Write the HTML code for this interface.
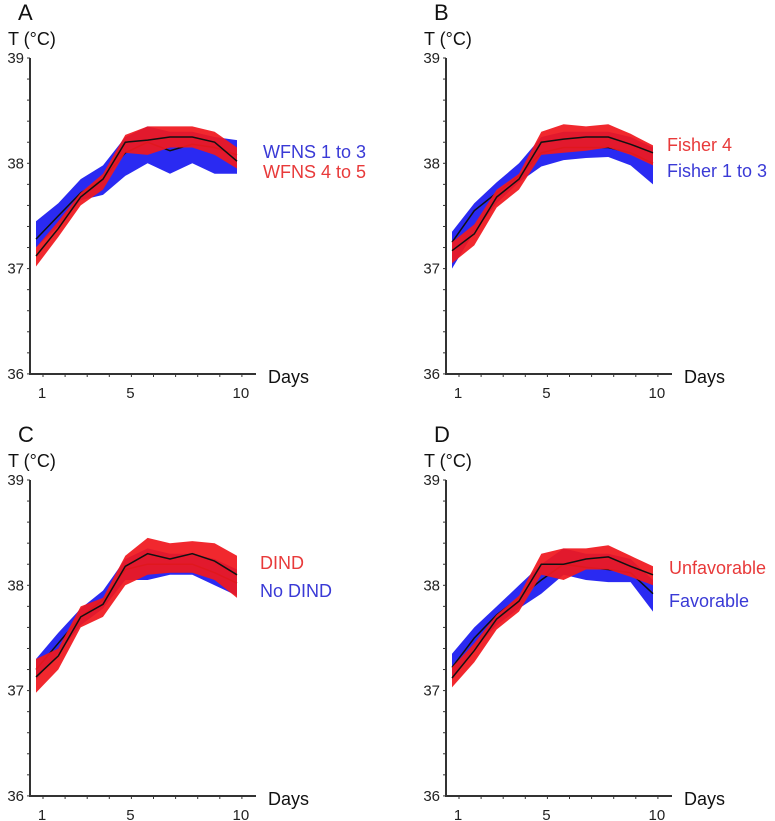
<!DOCTYPE html>
<html><head><meta charset="utf-8"><style>
body{margin:0;background:#fff;}
svg{display:block;font-family:"Liberation Sans","DejaVu Sans",sans-serif;}
</style></head><body>
<svg id="fig" width="775" height="821"></svg>
<script>
const days=[1,2,3,4,5,6,7,8,9,10];
const yTicks=[36,37,38,39];
const xTickLabels=[1,5,10];
// Panel A
const aBlueHi=[37.45,37.62,37.85,37.98,38.25,38.35,38.3,38.3,38.25,38.22];
const aBlueLo=[37.2,37.4,37.65,37.7,37.88,38.0,37.9,38.0,37.9,37.9];
const aBlueMean=[37.28,37.5,37.72,37.85,38.1,38.2,38.12,38.18,38.15,38.08];
const aRedHi=[37.2,37.45,37.72,37.9,38.27,38.35,38.35,38.35,38.3,38.15];
const aRedLo=[37.02,37.3,37.6,37.75,38.1,38.08,38.15,38.15,38.08,37.95];
const aRedMean=[37.12,37.38,37.68,37.85,38.2,38.22,38.25,38.25,38.2,38.02];
// Panel B
const bBlueHi=[37.35,37.62,37.82,38.0,38.25,38.3,38.3,38.3,38.25,38.15];
const bBlueLo=[37.0,37.35,37.62,37.82,37.97,38.03,38.05,38.06,37.98,37.8];
const bBlueMean=[37.25,37.55,37.72,37.88,38.1,38.15,38.15,38.15,38.1,38.0];
const bRedHi=[37.25,37.42,37.75,37.9,38.3,38.37,38.35,38.37,38.28,38.17];
const bRedLo=[37.05,37.22,37.58,37.75,38.08,38.1,38.12,38.15,38.08,37.98];
const bRedMean=[37.17,37.33,37.68,37.85,38.2,38.23,38.25,38.25,38.18,38.1];
// Panel C
const cBlueHi=[37.3,37.55,37.78,37.95,38.25,38.35,38.3,38.3,38.25,38.15];
const cBlueLo=[37.1,37.35,37.62,37.78,38.05,38.05,38.1,38.1,38.0,37.9];
const cBlueMean=[37.2,37.45,37.7,37.86,38.15,38.2,38.2,38.2,38.12,38.02];
const cRedHi=[37.3,37.4,37.8,37.88,38.28,38.45,38.4,38.42,38.4,38.28];
const cRedLo=[36.98,37.2,37.6,37.7,38.0,38.1,38.12,38.12,38.05,37.88];
const cRedMean=[37.13,37.33,37.7,37.82,38.18,38.3,38.25,38.3,38.23,38.1];
// Panel D
const dBlueHi=[37.35,37.6,37.8,38.0,38.2,38.35,38.3,38.3,38.25,38.05];
const dBlueLo=[37.1,37.4,37.62,37.78,37.92,38.1,38.05,38.03,38.03,37.75];
const dBlueMean=[37.22,37.5,37.72,37.88,38.05,38.2,38.17,38.15,38.12,37.92];
const dRedHi=[37.22,37.45,37.72,37.9,38.3,38.35,38.35,38.38,38.28,38.18];
const dRedLo=[37.03,37.27,37.58,37.75,38.1,38.05,38.15,38.15,38.08,38.0];
const dRedMean=[37.12,37.38,37.68,37.85,38.2,38.2,38.25,38.27,38.18,38.1];

const NS='http://www.w3.org/2000/svg';
const svg=document.getElementById('fig');
function mk(tag,attrs,parent){const e=document.createElementNS(NS,tag);for(const k in attrs)e.setAttribute(k,attrs[k]);(parent||svg).appendChild(e);return e;}

function panel(cfg){
  const g=mk('g',{});
  
  
  const ax=cfg.ax, top=cfg.top, bot=top+316;
  const yS=v=>top+(39-v)*105.3;
  const xS=d=>ax+6+(d-1)*22.33;
  const xT=d=>ax+13+(d-1)*22.1;
  let t=mk('text',{x:ax-12,y:top-38,'font-size':22,fill:'#111'},g);t.textContent=cfg.letter;
  
  t=mk('text',{x:ax-22,y:top-13,'font-size':18,fill:'#111'},g);t.textContent='T (°C)';
  
  t=mk('text',{x:ax+238,y:bot+9,'font-size':18,fill:'#111'},g);t.textContent='Days';
  
  function band(hi,lo,col,name){
    let d='';days.forEach((x,i)=>{d+=(i?'L':'M')+xS(x).toFixed(1)+','+yS(hi[i]).toFixed(1);});
    for(let i=days.length-1;i>=0;i--)d+='L'+xS(days[i]).toFixed(1)+','+yS(lo[i]).toFixed(1);
    const p=mk('path',{d:d+'Z',fill:col},g);
    
  }
  function line(m,name){
    const p=mk('polyline',{points:days.map((x,i)=>xS(x).toFixed(1)+','+yS(m[i]).toFixed(1)).join(' '),fill:'none',stroke:'#111','stroke-width':1.5},g);
    
  }
  band(cfg.bHi,cfg.bLo,'#2a2af2','blue-band');
  line(cfg.bM,'blue-mean-line');
  band(cfg.rHi,cfg.rLo,'rgba(240,24,30,0.93)','red-band');
  line(cfg.rM,'red-mean-line');
  let l=mk('line',{x1:ax,y1:top,x2:ax,y2:bot,stroke:'#333','stroke-width':2},g);
  
  l=mk('line',{x1:ax-1,y1:bot,x2:ax+226,y2:bot,stroke:'#333','stroke-width':2},g);
  
  for(let v=36;v<=39.001;v+=0.2){
    const y=yS(v);const tk=mk('line',{x1:ax-3,y1:y,x2:ax,y2:y,stroke:'#333','stroke-width':1},g);
    
  }
  yTicks.forEach(v=>{
    const tx=mk('text',{x:ax-6,y:yS(v)+5,'font-size':15,'text-anchor':'end',fill:'#222'},g);
    tx.textContent=v;
    
  });
  days.forEach(d=>{
    const tk=mk('line',{x1:xT(d),y1:bot,x2:xT(d),y2:bot+3,stroke:'#333','stroke-width':1},g);
    
  });
  xTickLabels.forEach(d=>{
    const tx=mk('text',{x:xT(d)-1,y:bot+24,'font-size':15,'text-anchor':'middle',fill:'#222'},g);
    tx.textContent=d;
    
  });
  cfg.legend.forEach(e=>{
    const tx=mk('text',{x:ax+e.dx,y:e.y,'font-size':18,fill:e.c},g);
    tx.textContent=e.t;
    
  });
}
const BLUE='#3a3ad6',RED='#e83a3a';
panel({letter:'A',ax:30,top:58,bHi:aBlueHi,bLo:aBlueLo,bM:aBlueMean,rHi:aRedHi,rLo:aRedLo,rM:aRedMean,
  legend:[{t:'WFNS 1 to 3',c:BLUE,dx:233,y:158},{t:'WFNS 4 to 5',c:RED,dx:233,y:178}]});
panel({letter:'B',ax:446,top:58,bHi:bBlueHi,bLo:bBlueLo,bM:bBlueMean,rHi:bRedHi,rLo:bRedLo,rM:bRedMean,
  legend:[{t:'Fisher 4',c:RED,dx:221,y:151},{t:'Fisher 1 to 3',c:BLUE,dx:221,y:177}]});
panel({letter:'C',ax:30,top:480,bHi:cBlueHi,bLo:cBlueLo,bM:cBlueMean,rHi:cRedHi,rLo:cRedLo,rM:cRedMean,
  legend:[{t:'DIND',c:RED,dx:230,y:569},{t:'No DIND',c:BLUE,dx:230,y:597}]});
panel({letter:'D',ax:446,top:480,bHi:dBlueHi,bLo:dBlueLo,bM:dBlueMean,rHi:dRedHi,rLo:dRedLo,rM:dRedMean,
  legend:[{t:'Unfavorable',c:RED,dx:223,y:574},{t:'Favorable',c:BLUE,dx:223,y:607}]});
</script>
</body></html>
